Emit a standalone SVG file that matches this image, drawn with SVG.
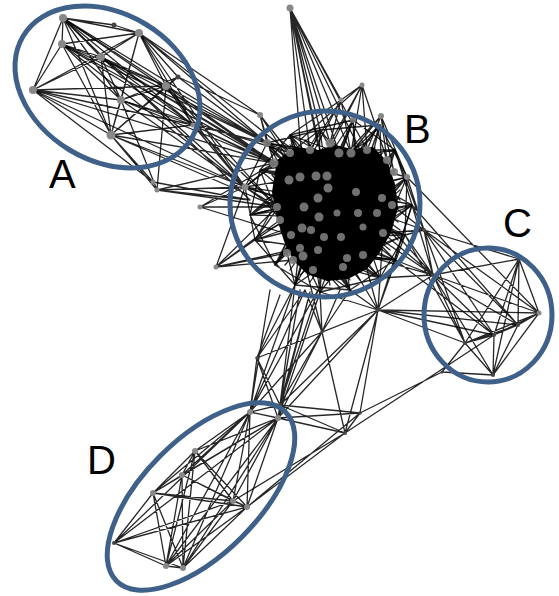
<svg xmlns="http://www.w3.org/2000/svg" width="559" height="596" viewBox="0 0 559 596">
<style>
.e{fill:none;stroke:#000;stroke-width:1.3;stroke-opacity:0.85;stroke-linecap:round}
.n{fill:#888}
.nb{fill:#7c7c7c;fill-opacity:0.9}
.ns{fill:#444}
.ring{fill:none;stroke:#3f6189;stroke-width:5}
.lbl{font-family:"Liberation Sans",Arial,sans-serif;font-size:40px;fill:#000}
</style>
<rect width="559" height="596" fill="#fff"/>
<g id="connectors">
<path class="e" d="M63 18L62 44M63 18L139 33M63 18L114 25M63 18L101 57M63 18L33 90M63 18L166 86M63 18L121 100M63 18L111 135M63 18L193 125M62 44L139 33M62 44L101 57M62 44L33 90M62 44L166 86M62 44L121 100M62 44L111 135M62 44L193 125M139 33L114 25M139 33L101 57M139 33L33 90M139 33L166 86M139 33L121 100M139 33L111 135M139 33L193 125M101 57L33 90M101 57L166 86M101 57L121 100M101 57L111 135M101 57L193 125M33 90L166 86M33 90L121 100M33 90L111 135M33 90L193 125M166 86L121 100M166 86L111 135M166 86L193 125M121 100L111 135M121 100L193 125M111 135L193 125M178 77L166 86M178 77L139 33M178 77L121 100M178 77L111 135M33 90L153 182M111 135L153 182M111 135L157 190M121 100L157 190M166 86L157 190"/>
<path class="e" d="M63 18L267 143M63 18L274 163M62 44L274 163M62 44L245 187M139 33L267 143M139 33L260 115M139 33L290 153M101 57L274 163M101 57L245 187M101 57L300 177M166 86L267 143M166 86L274 163M166 86L245 187M166 86L277 207M178 77L260 115M178 77L267 143M121 100L274 163M121 100L245 187M121 100L290 153M111 135L245 187M111 135L274 163M111 135L277 207M193 125L245 187M193 125L267 143M193 125L274 163M193 125L277 207M193 125L300 177M33 90L245 187M33 90L274 163M157 190L245 187M157 190L274 163M157 190L277 207M157 190L250 200M200 207L245 187M200 207L274 163M200 207L277 207M200 207L290 235M260 115L274 163M260 115L290 153M260 115L300 177M260 115L267 143M153 182L250 200M139 33L245 187M63 18L250 200M62 44L267 143M101 57L267 143"/>
<path class="e" d="M290 8L300 140M290 8L310 150M290 8L318 146M290 8L330 143M290 8L339 153M290 8L351 153M290 8L360 150M290 8L341 100M290 8L328 188M290 8L367 150M290 8L320 130M362 85L341 100M362 85L330 143M362 85L351 153M362 85L367 150M362 85L387 160M362 85L316 176M362 85L300 140M341 100L310 150M341 100L330 143M341 100L351 153M341 100L300 177M341 100L290 135M381 116L367 150M381 116L387 160M381 116L394 172M381 116L351 153M381 116L340 160M381 116L407 177M216 267L245 187M216 267L277 207M216 267L287 253M216 267L300 248M216 267L280 220M216 267L293 260M216 267L255 240"/>
<path class="e" d="M245 187L289 180M245 187L304 207M245 187L277 207M245 187L274 163M245 187L318 198M245 187L302 228M260 170L300 177M260 170L316 176M260 170L289 180M260 170L328 188M260 170L280 220M260 170L304 207M267 143L300 177M267 143L316 176M267 143L290 153M267 143L328 188M267 143L289 180M267 143L310 150M290 135L316 176M290 135L327 176M290 135L304 207M290 135L339 153M290 135L300 177M290 135L318 198M320 130L300 177M320 130L328 188M320 130L356 192M320 130L318 198M320 130L339 153M320 130L289 180M353 120L327 176M353 120L356 192M353 120L328 188M353 120L316 176M353 120L363 227M353 120L339 153M380 125L356 192M380 125L358 213M380 125L341 237M380 125L328 188M380 125L351 153M380 125L382 198M395 150L358 213M395 150L377 213M395 150L356 192M395 150L337 213M395 150L363 227M395 150L367 150M407 177L377 213M407 177L363 227M407 177L358 213M407 177L341 237M407 177L383 233M407 177L356 192M412 205L358 213M412 205L363 227M412 205L341 237M412 205L347 258M412 205L377 213M412 205L382 198M405 235L363 227M405 235L347 258M405 235L341 237M405 235L358 213M405 235L324 237M405 235L363 255M395 260L341 237M395 260L347 258M395 260L324 237M395 260L318 250M395 260L363 227M395 260L337 213M380 278L318 250M380 278L341 237M380 278L324 237M380 278L347 258M380 278L303 256M380 278L358 213M350 290L318 250M350 290L324 237M350 290L303 256M350 290L311 230M350 290L341 237M350 290L337 213M320 292L303 256M320 292L311 230M320 292L324 237M320 292L319 217M320 292L341 237M320 292L347 258M295 285L302 228M295 285L311 230M295 285L319 217M295 285L324 237M295 285L304 207M295 285L287 253M275 265L302 228M275 265L304 207M275 265L319 217M275 265L291 235M275 265L311 230M275 265L318 198M255 240L304 207M255 240L318 198M255 240L289 180M255 240L302 228M255 240L319 217M255 240L300 177M250 215L318 198M250 215L304 207M250 215L300 177M250 215L316 176M250 215L289 180M250 215L319 217"/>
<path class="e" d="M245 187L267 143M260 170L290 135M267 143L320 130M290 135L353 120M320 130L380 125M353 120L395 150M380 125L407 177M395 150L412 205M407 177L405 235M412 205L395 260M405 235L380 278M395 260L350 290M380 278L320 292M350 290L295 285M320 292L275 265M295 285L255 240M275 265L250 215M255 240L245 187M250 215L260 170M245 187L320 130M267 143L407 177M412 205L295 285M395 260L255 240M290 135L350 290M353 120L295 285M380 125L275 265M407 177L250 215M405 235L245 187M260 170L395 150M267 143L380 278M290 135L412 205M270 150L390 250M280 140L400 230M265 200L370 140M268 230L395 170M285 265L385 150M300 275L400 190M330 285L300 140M350 280L280 150M272 175L360 280M268 205L340 288M305 140L398 240M360 142L282 255M375 148L290 270M392 165L310 282M400 200L330 140M398 222L290 145"/>
<path class="e" d="M407 177L424 230M412 205L424 230M405 235L424 230M392 205L424 230M395 150L424 230M383 233L424 230M377 213L424 230M412 205L433 275M405 235L433 275M395 260L433 275M383 233L433 275M377 213L433 275M363 227L433 275M380 278L433 275M363 255L433 275M519 259L539 313M519 259L518 325M519 259L494 335M519 259L465 343M519 259L493 375M539 313L518 325M539 313L494 335M539 313L465 343M539 313L493 375M518 325L494 335M518 325L465 343M518 325L493 375M494 335L465 343M494 335L493 375M465 343L493 375M424 230L519 259M424 230L539 313M424 230L518 325M424 230L465 343M424 230L433 275M424 230L494 335M433 275L519 259M433 275L539 313M433 275L518 325M433 275L494 335M433 275L465 343M433 275L493 375M412 205L518 325M405 235L465 343M395 260L494 335M407 177L539 313"/>
<path class="e" d="M378 310L395 260M378 310L380 278M378 310L350 290M378 310L363 255M378 310L347 258M378 310L383 233M378 310L405 235M378 310L433 275M378 310L465 343M378 310L494 335M378 310L539 313M378 310L518 325M378 310L322 332M378 310L280 405M378 310L278 418M378 310L345 433M378 310L360 413M378 310L257 358M378 310L320 292M378 310L412 205M322 332L320 292M322 332L350 290M322 332L303 256M322 332L340 290M322 332L305 290M257 358L280 295M257 358L295 285M257 358L280 405M257 358L278 418M257 358L250 412M257 358L305 290M280 405L300 290M280 405L310 292M280 405L318 290M280 405L295 285M280 405L250 412M280 405L278 418M280 405L345 433M280 405L322 332M280 405L360 413M250 412L295 285M250 412L305 290M278 418L310 292M278 418L320 292M278 418L300 290M250 412L318 290M250 412L270 290M345 433L494 335M360 413L442 372M442 372L465 343M442 372L493 375M345 433L360 413M345 433L278 418M360 413L278 418M345 433L322 332M250 412L322 332M278 418L322 332M233 501L345 433M247 507L345 433M247 507L360 413M278 418L345 433"/>
<path class="e" d="M250 412L278 418M250 412L195 451M250 412L182 475M250 412L153 493M250 412L233 501M250 412L247 507M250 412L114 543M250 412L166 566M250 412L183 568M278 418L195 451M278 418L182 475M278 418L153 493M278 418L233 501M278 418L247 507M278 418L166 566M278 418L183 568M278 418L114 543M195 451L182 475M195 451L153 493M195 451L233 501M195 451L247 507M195 451L166 566M195 451L183 568M182 475L153 493M182 475L233 501M182 475L247 507M182 475L166 566M182 475L183 568M153 493L233 501M153 493L247 507M153 493L114 543M153 493L166 566M153 493L183 568M233 501L247 507M233 501L114 543M233 501L166 566M233 501L183 568M247 507L114 543M247 507L166 566M247 507L183 568M114 543L166 566M114 543L183 568M166 566L183 568"/>
</g>
<g id="node-B-core">
<path d="M277 160L296 147L318 150L335 145L352 149L373 147L387 161L395 184L398 208L391 233L380 252L367 269L348 279L327 281L307 274L293 260L284 241L277 219L272 192Z" fill="#000"/>
</g>
<g id="nodes-A">
<circle class="n" cx="63" cy="18" r="4"/><circle class="n" cx="62" cy="44" r="4"/><circle class="n" cx="139" cy="33" r="4"/><circle class="ns" cx="114" cy="25" r="2.5"/><circle class="n" cx="101" cy="57" r="4"/><circle class="n" cx="33" cy="90" r="4"/><circle class="n" cx="166" cy="86" r="4"/><circle class="ns" cx="178" cy="77" r="2.5"/><circle class="n" cx="121" cy="100" r="4"/><circle class="n" cx="111" cy="135" r="4.5"/><circle class="n" cx="193" cy="125" r="2.5"/><circle class="n" cx="153" cy="182" r="2.5"/><circle class="n" cx="157" cy="190" r="2.5"/><circle class="n" cx="200" cy="207" r="2.5"/>
</g>
<g id="nodes-B">
<circle class="n" cx="290" cy="8" r="3.5"/><circle class="n" cx="362" cy="85" r="2.5"/><circle class="n" cx="341" cy="100" r="2.5"/><circle class="n" cx="381" cy="116" r="3"/><circle class="n" cx="260" cy="115" r="3"/><circle class="n" cx="216" cy="267" r="2.5"/><circle class="n" cx="245" cy="187" r="3.5"/><circle class="n" cx="407" cy="177" r="3"/>
<circle class="nb" cx="274" cy="163" r="4.5"/><circle class="nb" cx="289" cy="180" r="4.5"/><circle class="nb" cx="300" cy="177" r="4.5"/><circle class="nb" cx="316" cy="176" r="4.5"/><circle class="nb" cx="327" cy="176" r="4.5"/><circle class="nb" cx="339" cy="153" r="4.5"/><circle class="nb" cx="351" cy="153" r="4.5"/><circle class="nb" cx="328" cy="188" r="4.5"/><circle class="nb" cx="356" cy="192" r="4"/><circle class="nb" cx="318" cy="198" r="4.5"/><circle class="nb" cx="304" cy="207" r="4.5"/><circle class="nb" cx="319" cy="217" r="4.5"/><circle class="nb" cx="302" cy="228" r="4.5"/><circle class="nb" cx="311" cy="230" r="4"/><circle class="nb" cx="291" cy="235" r="4"/><circle class="nb" cx="324" cy="237" r="4"/><circle class="nb" cx="341" cy="237" r="4"/><circle class="nb" cx="358" cy="213" r="4"/><circle class="nb" cx="377" cy="213" r="4"/><circle class="nb" cx="392" cy="205" r="4"/><circle class="nb" cx="382" cy="198" r="4"/><circle class="nb" cx="363" cy="227" r="3.5"/><circle class="nb" cx="383" cy="233" r="4"/><circle class="nb" cx="303" cy="256" r="4.5"/><circle class="nb" cx="318" cy="250" r="4"/><circle class="nb" cx="347" cy="258" r="4"/><circle class="nb" cx="363" cy="255" r="4"/><circle class="nb" cx="287" cy="253" r="4"/><circle class="nb" cx="290" cy="153" r="4"/><circle class="nb" cx="310" cy="150" r="4"/><circle class="nb" cx="330" cy="143" r="4.5"/><circle class="nb" cx="367" cy="150" r="4"/><circle class="nb" cx="387" cy="160" r="4"/><circle class="nb" cx="394" cy="172" r="4"/><circle class="nb" cx="277" cy="207" r="4"/><circle class="nb" cx="280" cy="220" r="4"/><circle class="nb" cx="337" cy="213" r="3.5"/><circle class="nb" cx="300" cy="248" r="4"/><circle class="nb" cx="293" cy="260" r="4"/><circle class="nb" cx="313" cy="270" r="4"/><circle class="nb" cx="343" cy="267" r="4"/><circle class="nb" cx="267" cy="143" r="4"/><circle class="nb" cx="353" cy="120" r="3"/>
</g>
<g id="nodes-C">
<circle class="ns" cx="519" cy="259" r="2"/><circle class="n" cx="539" cy="313" r="2.5"/><circle class="ns" cx="518" cy="325" r="2"/><circle class="ns" cx="494" cy="335" r="2"/><circle class="ns" cx="465" cy="343" r="2"/><circle class="ns" cx="493" cy="375" r="2"/><circle class="ns" cx="424" cy="230" r="2"/><circle class="ns" cx="433" cy="275" r="2"/>
</g>
<g id="nodes-mid">
<circle class="ns" cx="378" cy="310" r="2"/><circle class="ns" cx="322" cy="332" r="1.8"/><circle class="ns" cx="257" cy="358" r="1.8"/><circle class="ns" cx="280" cy="405" r="2"/><circle class="ns" cx="345" cy="433" r="2"/><circle class="ns" cx="360" cy="413" r="1.8"/><circle class="ns" cx="442" cy="372" r="1.5"/>
</g>
<g id="nodes-D">
<circle class="n" cx="250" cy="412" r="3"/><circle class="n" cx="278" cy="418" r="3"/><circle class="n" cx="195" cy="451" r="3"/><circle class="n" cx="182" cy="475" r="3"/><circle class="n" cx="153" cy="493" r="3"/><circle class="n" cx="233" cy="501" r="3"/><circle class="n" cx="247" cy="507" r="3"/><circle class="ns" cx="114" cy="543" r="2"/><circle class="n" cx="166" cy="566" r="3"/><circle class="n" cx="183" cy="568" r="3"/>
</g>
<g id="group-A">
<ellipse class="ring" cx="107.5" cy="87" rx="98.5" ry="73.5" transform="rotate(31 107.5 87)"/>
<text class="lbl" x="49" y="188">A</text>
</g>
<g id="group-B">
<ellipse class="ring" cx="325" cy="204" rx="95" ry="93"/>
<text class="lbl" x="404" y="143">B</text>
</g>
<g id="group-C">
<ellipse class="ring" cx="488" cy="315" rx="64" ry="67"/>
<text class="lbl" x="503" y="237">C</text>
</g>
<g id="group-D">
<ellipse class="ring" cx="201" cy="496.5" rx="119.5" ry="57.5" transform="rotate(-45 201 496.5)"/>
<text class="lbl" x="87" y="474">D</text>
</g>
</svg>
